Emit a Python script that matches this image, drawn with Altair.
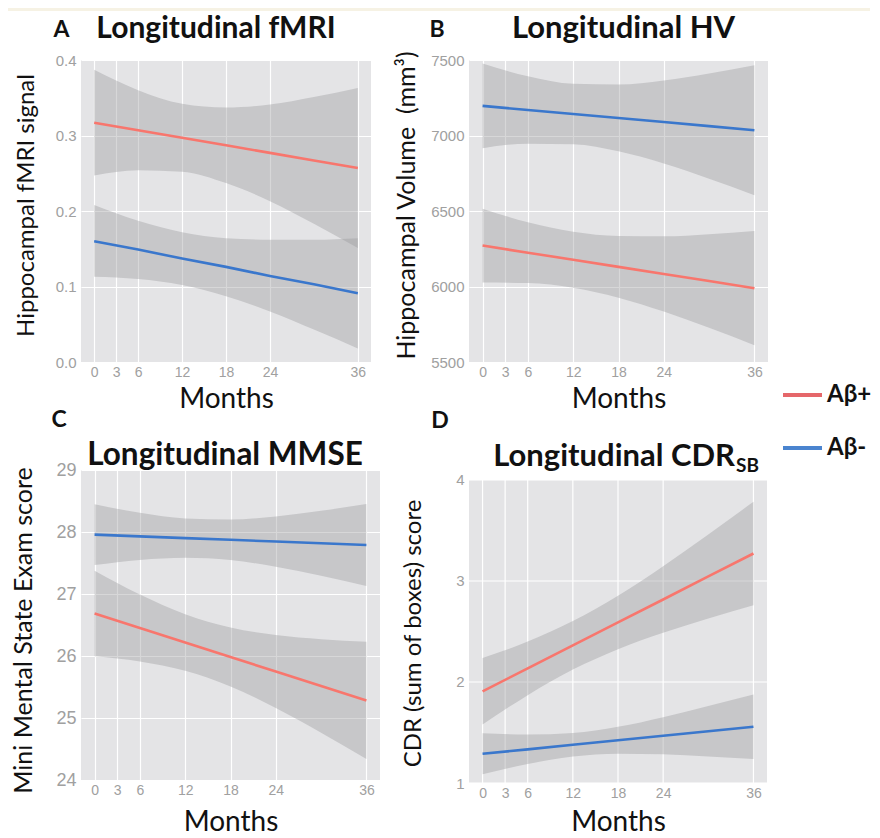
import altair as alt
import pandas as pd

# ---------------- data ----------------
months = [0, 6, 12, 18, 24, 30, 36]
month_ticks = [0, 3, 6, 12, 18, 24, 36]
groups = ["Aβ+", "Aβ-"]
group_colors = ["#f8766d", "#3a77cc"]

# Panel A: hippocampal fMRI signal
fmri_pos_fit = [0.317, 0.307, 0.297, 0.287, 0.277, 0.267, 0.257]
fmri_pos_hi = [0.387, 0.360, 0.342, 0.337, 0.341, 0.351, 0.363]
fmri_pos_lo = [0.247, 0.254, 0.252, 0.237, 0.213, 0.183, 0.151]
fmri_neg_fit = [0.160, 0.149, 0.137, 0.126, 0.114, 0.103, 0.091]
fmri_neg_hi = [0.208, 0.187, 0.172, 0.164, 0.162, 0.162, 0.164]
fmri_neg_lo = [0.113, 0.110, 0.102, 0.087, 0.067, 0.043, 0.018]

# Panel B: hippocampal volume
hv_pos_fit = [6271, 6224, 6177, 6130, 6083, 6036, 5989]
hv_pos_hi = [6515, 6425, 6362, 6334, 6332, 6346, 6367]
hv_pos_lo = [6027, 6023, 5992, 5926, 5834, 5726, 5611]
hv_neg_fit = [7196, 7169, 7142, 7116, 7089, 7062, 7035]
hv_neg_hi = [7476, 7392, 7342, 7337, 7364, 7411, 7466]
hv_neg_lo = [6916, 6946, 6942, 6895, 6814, 6713, 6604]

# Panel C: MMSE
mmse_pos_fit = [26.685, 26.451, 26.218, 25.984, 25.750, 25.517, 25.283]
mmse_pos_hi = [27.375, 26.990, 26.674, 26.460, 26.339, 26.272, 26.228]
mmse_pos_lo = [25.995, 25.912, 25.762, 25.508, 25.161, 24.762, 24.338]
mmse_neg_fit = [27.957, 27.929, 27.901, 27.874, 27.846, 27.818, 27.790]
mmse_neg_hi = [28.447, 28.309, 28.217, 28.200, 28.252, 28.342, 28.450]
mmse_neg_lo = [27.467, 27.550, 27.585, 27.548, 27.440, 27.294, 27.130]

# Panel D: CDR sum of boxes
cdr_pos_fit = [1.908, 2.135, 2.363, 2.590, 2.817, 3.045, 3.272]
cdr_pos_hi = [2.238, 2.400, 2.603, 2.855, 3.147, 3.461, 3.784]
cdr_pos_lo = [1.578, 1.870, 2.123, 2.325, 2.487, 2.629, 2.760]
cdr_neg_fit = [1.289, 1.333, 1.378, 1.423, 1.468, 1.512, 1.557]
cdr_neg_hi = [1.492, 1.479, 1.494, 1.556, 1.652, 1.762, 1.877]
cdr_neg_lo = [1.086, 1.187, 1.262, 1.290, 1.284, 1.262, 1.237]

panel_letters = ["A", "B", "C", "D"]
panel_titles = ["Longitudinal fMRI", "Longitudinal HV", "Longitudinal MMSE", "Longitudinal CDR"]
title_subscript = "SB"
y_titles = ["Hippocampal fMRI signal", "Hippocampal Volume \u00a0(mm³)",
            "Mini Mental State Exam score", "CDR (sum of boxes) score"]
x_title = "Months"
y_domains = [[0, 0.4], [5500, 7500], [24, 29], [1, 4.099]]
y_tick_values = [[0, 0.1, 0.2, 0.3, 0.4], [5500, 6000, 6500, 7000, 7500],
                 [24, 25, 26, 27, 28, 29], [1, 2, 3, 4]]
y_formats = [".1f", "d", "d", "d"]

TITLE_FONT = "Lato, 'Noto Sans', sans-serif"
LABEL_FONT = "'Liberation Sans', Arial, sans-serif"
PANEL_BG = "#e4e4e6"


def text_layer(s, x, y, size, weight="bold", align="center", baseline="alphabetic", color="#111111"):
    return alt.Chart(pd.DataFrame({"t": [s]})).mark_text(
        align=align, baseline=baseline, fontSize=size, fontWeight=weight,
        font=TITLE_FONT, color=color
    ).encode(text="t:N", x=alt.value(x), y=alt.value(y))


def panel(i, pos, neg, w, h, ytitle_x, ytitle_y, ytitle_size, xtitle_y, ylab_size, extras,
          bg_top=None):
    fit_p, hi_p, lo_p = pos
    fit_n, hi_n, lo_n = neg
    df = pd.DataFrame({
        "Months": months + months,
        "group": [groups[0]] * len(months) + [groups[1]] * len(months),
        "fit": fit_p + fit_n,
        "hi": hi_p + hi_n,
        "lo": lo_p + lo_n,
    })
    own_grid = bg_top is not None
    xscale = alt.Scale(domain=[-1.8, 37.8], nice=False, zero=False)
    yscale = alt.Scale(domain=y_domains[i], nice=False, zero=False)
    xs = alt.X("Months:Q", scale=xscale,
               axis=alt.Axis(values=month_ticks, title=x_title, grid=not own_grid, gridColor="white",
                             gridWidth=1.2, domain=False, ticks=False, labelColor="#a0a0a0",
                             labelFont=LABEL_FONT, labelFontSize=14, labelPadding=3,
                             labelFlush=False, labelOverlap=False,
                             titleFont=TITLE_FONT, titleFontSize=28, titleFontWeight="normal",
                             titleColor="#111111", titleY=xtitle_y, titleBaseline="alphabetic"))
    yaxis = alt.Axis(values=y_tick_values[i], format=y_formats[i], title=y_titles[i],
                     grid=not own_grid,
                     gridColor="white", gridWidth=1.2, domain=False, ticks=False,
                     labelColor="#a0a0a0", labelFont=LABEL_FONT, labelFontSize=ylab_size,
                     labelPadding=5, labelFlush=False, labelOverlap=False,
                     titleFont=TITLE_FONT, titleFontSize=ytitle_size, titleFontWeight="normal",
                     titleColor="#111111", titleX=ytitle_x, titleY=ytitle_y,
                     titleBaseline="middle")
    base = alt.Chart(df)
    band = base.mark_area(color="#9a9a9e", opacity=0.4, interpolate="monotone").encode(
        x=xs, y=alt.Y("lo:Q", scale=yscale, axis=yaxis), y2="hi:Q", detail="group:N")
    line = base.mark_line(strokeWidth=2.6).encode(
        x=xs, y=alt.Y("fit:Q", scale=yscale, axis=yaxis),
        color=alt.Color("group:N", scale=alt.Scale(domain=groups, range=group_colors), legend=None))
    layers = []
    if own_grid:
        layers.append(alt.Chart(pd.DataFrame({"k": [0]})).mark_rect(color=PANEL_BG).encode(
            x=alt.value(0), x2=alt.value(w), y=alt.value(bg_top), y2=alt.value(h)))
        layers.append(alt.Chart(pd.DataFrame({"m": month_ticks})).mark_rule(
            color="white", strokeWidth=1.2).encode(
            x=alt.X("m:Q", scale=xscale), y=alt.value(bg_top), y2=alt.value(h)))
        layers.append(alt.Chart(pd.DataFrame({"v": y_tick_values[i]})).mark_rule(
            color="white", strokeWidth=1.2).encode(
            y=alt.Y("v:Q", scale=yscale), x=alt.value(0), x2=alt.value(w)))
    layers += [band, line] + extras
    ch = alt.layer(*layers).properties(width=w, height=h)
    if own_grid:
        ch = ch.properties(view=alt.ViewBackground(fill="white", stroke=None))
    return ch


# panel A extras: cream strip, letter, title
cream = alt.Chart(pd.DataFrame({"k": [0]})).mark_rect(color="#f6f2e4").encode(
    x=alt.value(-73), x2=alt.value(789), y=alt.value(-52), y2=alt.value(-49))

A = panel(0, (fmri_pos_fit, fmri_pos_hi, fmri_pos_lo), (fmri_neg_fit, fmri_neg_hi, fmri_neg_lo),
          290, 302, -55, 145, 24, 45, 15,
          [cream, text_layer(panel_letters[0], -19.5, -23, 23),
           text_layer(panel_titles[0], 135, -22, 30)])

legend_layers = []
for g, col, yy in zip(groups, ["#e5676a", "#4a84cf"], [335, 388]):
    legend_layers.append(
        alt.Chart(pd.DataFrame({"k": [0]})).mark_rule(color=col, strokeWidth=4).encode(
            x=alt.value(314), x2=alt.value(353), y=alt.value(yy)))
    legend_layers.append(text_layer(g, 358, yy, 24, align="left", baseline="middle"))

B = panel(1, (hv_pos_fit, hv_pos_hi, hv_pos_lo), (hv_neg_fit, hv_neg_hi, hv_neg_lo),
          299, 302, -63, 145, 25, 45, 15,
          [text_layer(panel_letters[1], -32, -23, 23),
           text_layer(panel_titles[1], 154.5, -22, 31)] + legend_layers)

C = panel(2, (mmse_pos_fit, mmse_pos_hi, mmse_pos_lo), (mmse_neg_fit, mmse_neg_hi, mmse_neg_lo),
          299, 310, -58, 160, 25, 50, 18,
          [text_layer(panel_letters[2], -22, -43, 23),
           text_layer(panel_titles[2], 144, -5, 31.5)])

D = panel(3, (cdr_pos_fit, cdr_pos_hi, cdr_pos_lo), (cdr_neg_fit, cdr_neg_hi, cdr_neg_lo),
          298, 313, -56, 163, 24, 47, 15,
          [text_layer(panel_letters[3], -29, -42, 23),
           text_layer(panel_titles[3], 266, -4, 31, align="right"),
           text_layer(title_subscript, 267, 2, 19, align="left")],
          bg_top=10)

chart = alt.concat(A, B, C, D, columns=2, spacing={"row": 108, "column": 89},
                   bounds="flush").properties(
    padding=0, background="white"
).configure_view(fill=PANEL_BG, stroke=None)

chart.save("out.html", embed_options={"renderer": "svg", "actions": False})
